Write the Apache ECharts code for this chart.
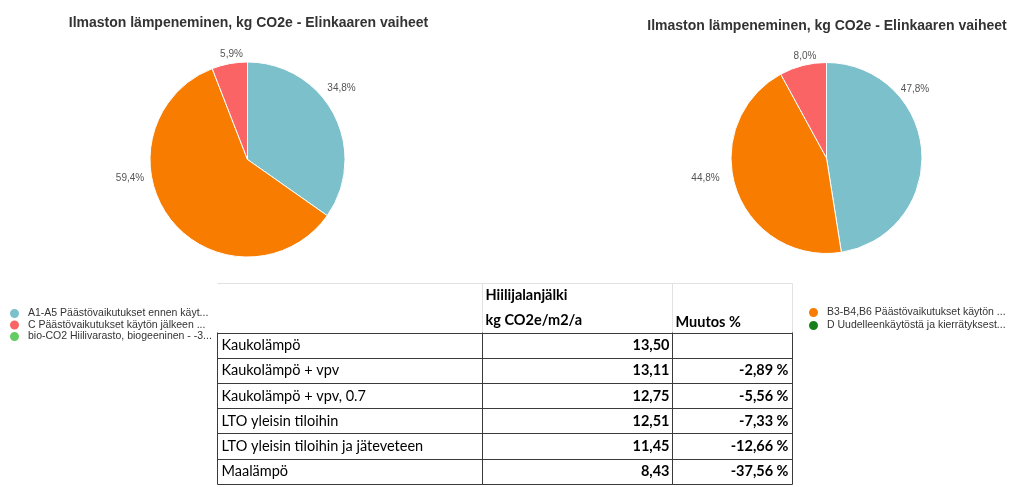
<!DOCTYPE html>
<html><head><meta charset="utf-8">
<script src="https://cdn.jsdelivr.net/npm/echarts@6/dist/echarts.min.js"></script>
<style>html,body{margin:0;padding:0;background:#fff}#c{width:1024px;height:487px}</style>
</head><body><div id="c"></div>
<script>
// ---- data ----
const chartTitle = 'Ilmaston lämpeneminen, kg CO2e - Elinkaaren vaiheet';
const stageNames = [
  'A1-A5 Päästövaikutukset ennen käyt...',
  'B3-B4,B6 Päästövaikutukset käytön ...',
  'C Päästövaikutukset käytön jälkeen ...',
  'D Uudelleenkäytöstä ja kierrätyksest...',
  'bio-CO2 Hiilivarasto, biogeeninen - -3...'
];
const leftShares = [34.8, 59.4, 5.9, 0, 0];
const rightShares = [47.8, 44.8, 8.0, 0, 0];

const tableHeader = ['', 'Hiilijalanjälki\nkg CO2e/m2/a', 'Muutos %'];
const caseNames = ['Kaukolämpö', 'Kaukolämpö + vpv', 'Kaukolämpö + vpv, 0.7', 'LTO yleisin tiloihin', 'LTO yleisin tiloihin ja jäteveteen', 'Maalämpö'];
const footprints = [13.50, 13.11, 12.75, 12.51, 11.45, 8.43];
const changes = [null, -2.89, -5.56, -7.33, -12.66, -37.56];

// ---- style ----
const colors = ['#7cc0cb', '#f77c00', '#fa6464', '#17801c', '#63cc63'];
const pies = [
  {center: [247.5, 159.5], r: 97.5, values: leftShares, labelOffsets: [[94, -71], [-117.5, 19], [-16, -105]]},
  {center: [826.5, 158], r: 95.5, values: rightShares, labelOffsets: [[88.5, -68.5], [-121, 20], [-21.5, -102]]}
];
const fmt = (v, d) => v.toFixed(d).replace('.', ',');

const chart = echarts.init(document.getElementById('c'), null, {renderer: 'canvas'});

const series = pies.map((p, si) => ({
  type: 'pie',
  center: p.center,
  radius: p.r,
  startAngle: 90,
  clockwise: true,
  animation: false,
  avoidLabelOverlap: false,
  itemStyle: {borderColor: '#fff', borderWidth: 1},
  label: {
    show: true, position: 'outside', color: '#555', fontSize: 10,
    fontFamily: 'Liberation Sans, Arial, sans-serif',
    formatter: (prm) => fmt(prm.value, 1) + '%'
  },
  labelLine: {show: false, length: 10, length2: 0},
  labelLayout: (prm) => {
    const o = p.labelOffsets[prm.dataIndex];
    if (!o) return {};
    return {x: p.center[0] + o[0], y: p.center[1] + o[1], align: 'center', verticalAlign: 'middle'};
  },
  emphasis: {disabled: true},
  data: stageNames.map((n, i) => ({
    name: n, value: p.values[i],
    itemStyle: {color: colors[i]},
    label: {show: p.values[i] > 0}
  }))
}));

// table graphic
const X = [217.5, 482.5, 672.5, 792.5];
const headTop = 283.5, headBottom = 332.5, rowH = 25.2;
const tFont = 'Lato, "Open Sans", sans-serif';
const tSize = 14.5;
const g = [];
const bottom = headBottom + rowH * caseNames.length;
g.push({type: 'rect', shape: {x: 214, y: 280, width: 582, height: bottom - 278}, style: {fill: '#fff'}, silent: true});
g.push({type: 'line', shape: {x1: X[0], y1: headTop, x2: X[3], y2: headTop}, style: {stroke: '#e2e2e2', lineWidth: 1}});
[1, 2, 3].forEach(k => g.push({type: 'line', shape: {x1: X[k], y1: headTop, x2: X[k], y2: headBottom}, style: {stroke: '#e2e2e2', lineWidth: 1}}));
for (let i = 0; i <= caseNames.length; i++) {
  const y = Math.round(headBottom + rowH * i) + 0.5;
  g.push({type: 'line', shape: {x1: X[0], y1: y, x2: X[3], y2: y}, style: {stroke: '#3a3a3a', lineWidth: 1}});
}
X.forEach(x => g.push({type: 'line', shape: {x1: x, y1: headBottom, x2: x, y2: Math.round(bottom) + 0.5}, style: {stroke: '#3a3a3a', lineWidth: 1}}));
const hLines = tableHeader[1].split('\n');
g.push({type: 'text', x: X[1] + 3, y: 295, style: {text: hLines[0], font: 'bold ' + tSize + 'px ' + tFont, fill: '#000', verticalAlign: 'middle'}});
g.push({type: 'text', x: X[1] + 3, y: 320, style: {text: hLines[1], font: 'bold ' + tSize + 'px ' + tFont, fill: '#000', verticalAlign: 'middle'}});
g.push({type: 'text', x: X[2] + 3, y: 322, style: {text: tableHeader[2], font: 'bold ' + tSize + 'px ' + tFont, fill: '#000', verticalAlign: 'middle'}});
caseNames.forEach((n, i) => {
  const cy = headBottom + rowH * i + rowH / 2 + 0.5;
  g.push({type: 'text', x: X[0] + 4, y: cy, style: {text: n, font: tSize + 'px ' + tFont, fill: '#000', verticalAlign: 'middle'}});
  g.push({type: 'text', x: X[1] + 187, y: cy, style: {text: fmt(footprints[i], 2), font: 'bold ' + tSize + 'px ' + tFont, fill: '#000', align: 'right', verticalAlign: 'middle'}});
  if (changes[i] !== null) {
    g.push({type: 'text', x: X[3] - 4, y: cy, style: {text: fmt(changes[i], 2) + ' %', font: 'bold ' + tSize + 'px ' + tFont, fill: '#000', align: 'right', verticalAlign: 'middle'}});
  }
});

const legendText = {color: '#333', fontSize: 10.5, lineHeight: 11, fontFamily: 'Liberation Sans, Arial, sans-serif', padding: [0, 0, 0, 3]};
const titleStyle = {fontSize: 14, fontWeight: 'bold', color: '#333', fontFamily: 'Liberation Sans, Arial, sans-serif'};

chart.setOption({
  backgroundColor: '#fff',
  animation: false,
  title: [
    {text: chartTitle, left: 243.5, top: 11, textAlign: 'center', textStyle: titleStyle},
    {text: chartTitle, left: 822, top: 14, textAlign: 'center', textStyle: titleStyle}
  ],
  legend: [
    {orient: 'vertical', left: 3, top: 302, itemWidth: 11, itemHeight: 11, itemGap: -1.5, icon: 'circle',
      data: [stageNames[0], stageNames[2], stageNames[4]], textStyle: legendText, selectedMode: false},
    {orient: 'vertical', left: 802, top: 301, itemWidth: 11, itemHeight: 11, itemGap: 0, icon: 'circle',
      data: [stageNames[1], stageNames[3]], textStyle: legendText, selectedMode: false}
  ],
  series: series,
  graphic: {elements: g}
});
</script></body></html>
